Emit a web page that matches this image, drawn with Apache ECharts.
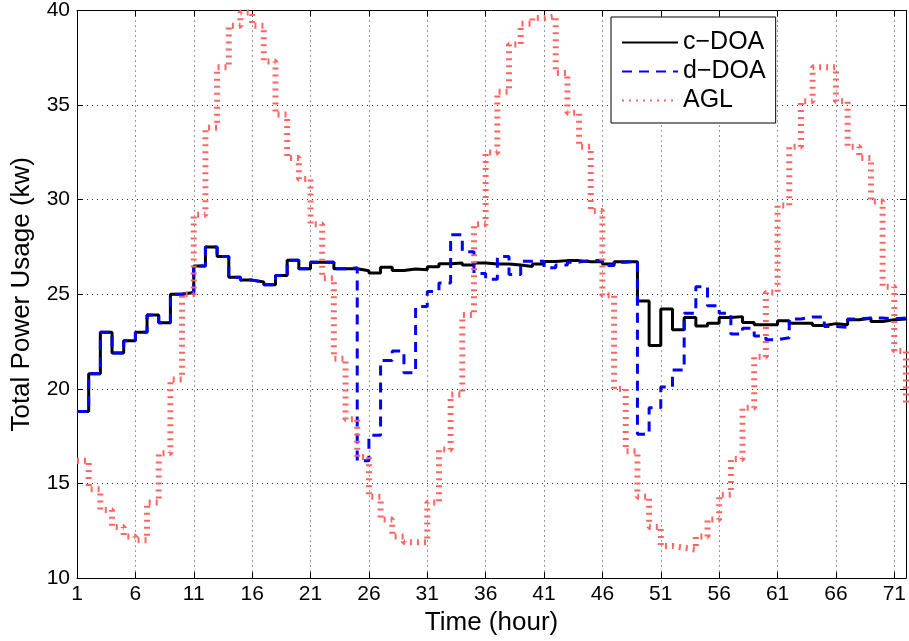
<!DOCTYPE html>
<html>
<head>
<meta charset="utf-8">
<script src="https://cdn.jsdelivr.net/npm/echarts@6/dist/echarts.min.js"></script>
<style>
html,body{margin:0;padding:0;background:#fff;}
#chart{width:909px;height:641px;}
</style>
</head>
<body>
<div id="chart"></div>
<script>
// ---- data ----
var hours = [1,2,3,4,5,6,7,8,9,10,11,12,13,14,15,16,17,18,19,20,21,22,23,24,
             25,26,27,28,29,30,31,32,33,34,35,36,37,38,39,40,41,42,43,44,45,46,47,48,
             49,50,51,52,53,54,55,56,57,58,59,60,61,62,63,64,65,66,67,68,69,70,71,72];
var xTickValues = [1,6,11,16,21,26,31,36,41,46,51,56,61,66,71];
var yTickRange = {min:10, max:40, step:5};

var cDOA = [18.8,20.8,23.0,21.9,22.55,23.0,23.9,23.5,25.0,25.1,26.5,27.5,27.0,25.9,25.75,25.65,25.5,26.0,26.8,26.35,26.7,26.7,26.35,26.35,
            26.25,26.13,26.43,26.26,26.34,26.3,26.45,26.62,26.66,26.55,26.66,26.6,26.6,26.55,26.47,26.6,26.74,26.78,26.78,26.72,26.72,26.6,26.72,26.72,
            24.64,22.29,24.22,23.12,23.77,23.33,23.47,23.77,23.82,23.51,23.39,23.39,23.6,23.47,23.47,23.35,23.45,23.39,23.65,23.73,23.56,23.65,23.7,23.7];

var dDOA = [18.8,20.8,23.0,21.9,22.55,23.0,23.9,23.5,25.0,25.1,26.5,27.5,27.0,25.9,25.75,25.65,25.5,26.0,26.8,26.35,26.7,26.7,26.35,26.4,
            16.2,17.55,21.5,22.0,20.85,24.35,25.15,25.6,28.15,27.25,26.1,25.8,27.0,26.05,26.75,26.75,26.4,26.55,26.7,26.8,26.78,26.52,26.7,26.75,
            17.6,19.0,20.1,21.0,24.0,25.4,24.4,24.0,22.9,23.2,22.8,22.6,22.7,23.7,23.8,23.8,23.3,23.25,23.7,23.75,23.75,23.7,23.75,23.75];

var AGL = [16.2,14.7,13.6,12.7,12.2,12.0,14.0,16.6,20.5,25.0,29.2,33.8,37.0,39.2,39.9,39.2,37.3,34.5,32.2,31.1,28.7,25.85,21.6,18.4,
           16.4,14.3,13.1,12.2,11.9,11.9,14.0,16.8,19.7,23.9,28.7,32.5,35.7,38.2,39.3,39.6,39.7,36.7,34.6,32.8,29.4,24.95,20.0,16.7,
           14.3,12.7,11.7,11.6,11.5,12.2,13.1,14.4,16.3,19.0,21.7,25.1,29.7,32.8,35.2,37.0,37.0,35.2,32.8,32.2,29.9,25.4,22.0,19.2];

var seriesNames = ['c\u2212DOA','d\u2212DOA','AGL'];

function pairs(vals){
  var out = [];
  for (var i = 0; i < hours.length; i++) out.push([hours[i], vals[i]]);
  return out;
}

var FONT = 'Liberation Sans, Arial, Helvetica, sans-serif';
var gridLine = {show:true, lineStyle:{color:'#333', width:1, type:[1,4]}};
var RED = '#ff6464';

var chart = echarts.init(document.getElementById('chart'), null, {renderer:'canvas'});
chart.setOption({
  animation:false,
  backgroundColor:'#fff',
  textStyle:{fontFamily:FONT, color:'#000'},
  grid:{left:77, right:2, top:5, bottom:61, containLabel:false},
  legend:{
    orient:'vertical',
    left:611, top:17,
    padding:[13,10,10,10],
    itemGap:4,
    itemWidth:56, itemHeight:18,
    borderColor:'#000', borderWidth:1,
    backgroundColor:'#fff',
    itemStyle:{opacity:0},
    textStyle:{fontFamily:FONT, fontSize:25, color:'#000', lineHeight:25},
    data:seriesNames
  },
  xAxis:[{
    type:'value', min:1, max:72,
    name:'Time (hour)', nameLocation:'middle', nameGap:30,
    nameTextStyle:{fontFamily:FONT, fontSize:26, color:'#000'},
    axisLine:{show:true, lineStyle:{color:'#000', width:1}},
    axisTick:{show:true, inside:true, length:6, customValues:xTickValues, lineStyle:{color:'#000'}},
    axisLabel:{customValues:xTickValues, fontFamily:FONT, fontSize:21, color:'#000', margin:6},
    splitLine:gridLine
  },{
    type:'value', min:1, max:72, position:'top',
    axisLine:{show:true, lineStyle:{color:'#000', width:1}},
    axisTick:{show:true, inside:true, length:6, customValues:xTickValues, lineStyle:{color:'#000'}},
    axisLabel:{show:false},
    splitLine:{show:false}
  }],
  yAxis:[{
    type:'value', min:yTickRange.min, max:yTickRange.max, interval:yTickRange.step,
    name:'Total Power Usage (kw)', nameLocation:'middle', nameGap:42,
    nameTextStyle:{fontFamily:FONT, fontSize:26, color:'#000'},
    axisLine:{show:true, lineStyle:{color:'#000', width:1}},
    axisTick:{show:true, inside:true, length:6, lineStyle:{color:'#000'}},
    axisLabel:{fontFamily:FONT, fontSize:21, color:'#000', margin:7},
    splitLine:gridLine
  },{
    type:'value', min:yTickRange.min, max:yTickRange.max, interval:yTickRange.step, position:'right',
    axisLine:{show:true, lineStyle:{color:'#000', width:1}},
    axisTick:{show:true, inside:true, length:6, lineStyle:{color:'#000'}},
    axisLabel:{show:false},
    splitLine:{show:false}
  }],
  series:[{
    name:seriesNames[0], type:'line', step:'end', data:pairs(cDOA),
    xAxisIndex:0, yAxisIndex:0,
    symbol:'none', showSymbol:false,
    lineStyle:{color:'#000', width:3},
    itemStyle:{color:'#000'}, z:2
  },{
    name:seriesNames[1], type:'line', step:'end', data:pairs(dDOA),
    xAxisIndex:0, yAxisIndex:0,
    symbol:'none', showSymbol:false,
    lineStyle:{color:'#0000ff', width:3, type:[10,7]},
    itemStyle:{color:'#0000ff'}, z:3
  },{
    name:seriesNames[2], type:'line', step:'end', data:pairs(AGL),
    xAxisIndex:0, yAxisIndex:0,
    symbol:'none', showSymbol:false,
    lineStyle:{color:RED, width:6, type:[2,5]},
    itemStyle:{color:RED}, z:4
  }]
});
</script>
</body>
</html>
